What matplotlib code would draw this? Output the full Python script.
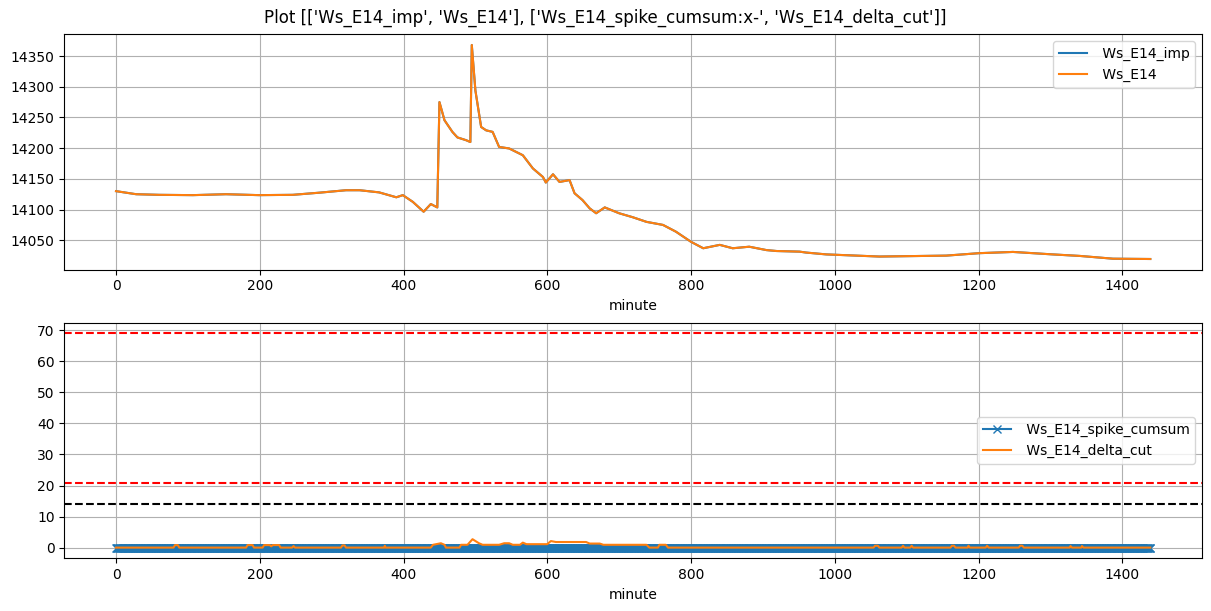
import numpy as np
import matplotlib
matplotlib.use("Agg")
import matplotlib.pyplot as plt

# ---------------- data ----------------
title = "Plot [['Ws_E14_imp', 'Ws_E14'], ['Ws_E14_spike_cumsum:x-', 'Ws_E14_delta_cut']]"

ws_minute = [0, 28, 60, 107, 153, 199, 246, 283, 320, 339, 366, 390, 399, 413, 428,
             438, 447, 450, 457, 468, 475, 487, 493, 495, 500, 508, 515, 524, 533,
             547, 566, 580, 594, 598, 608, 617, 631, 638, 649, 659, 668, 680, 700,
             719, 738, 761, 779, 800, 817, 840, 858, 881, 905, 919, 951, 960, 988,
             1062, 1155, 1201, 1248, 1303, 1341, 1387, 1439]
ws_value = [14130, 14125, 14124, 14123.5, 14125, 14123.5, 14124, 14127.5, 14131.5, 14131.5,
            14128, 14120, 14123.5, 14112.5, 14096.5, 14109, 14103.5, 14275, 14245.5, 14226.5,
            14217.5, 14213, 14210, 14368, 14294, 14234.5, 14229, 14226.5, 14202, 14199.5,
            14188.5, 14167, 14153, 14144, 14157.5, 14145, 14148, 14126.5, 14115.5, 14102,
            14094, 14103.5, 14094, 14087.5, 14080, 14075, 14064, 14047.5, 14037, 14042.5,
            14037, 14039.5, 14034, 14032.5, 14031.5, 14030, 14027, 14023.5, 14025, 14029,
            14031, 14027, 14024.5, 14020, 14019.5]

n_minutes = 1440
spike_cumsum = [0] * n_minutes

delta_minute = [0, 80, 82, 86, 88, 181, 183, 190, 192, 204, 206, 214, 216, 218, 227, 229,
                245, 247, 249, 313, 315, 318, 320, 373, 374, 375, 438, 441, 452, 457, 459,
                478, 480, 489, 496, 505, 510, 533, 540, 547, 552, 562, 566, 571, 600, 605,
                612, 654, 659, 673, 678, 738, 742, 754, 756, 765, 768, 1054, 1056, 1060, 1062,
                1093, 1095, 1097, 1105, 1107, 1109, 1161, 1163, 1166, 1168, 1185, 1186, 1188,
                1210, 1212, 1214, 1256, 1258, 1261, 1263, 1327, 1328, 1330, 1343, 1344, 1346, 1439]
delta_value = [0, 0, 0.8, 0.8, 0, 0, 0.8, 0.8, 0, 0, 0.8, 0.8, 0.4, 0.8, 0.8, 0,
               0, 0.5, 0, 0, 0.7, 0.7, 0, 0, 0.6, 0, 0, 0.9, 1.4, 0.9, 0,
               0, 0.9, 0.9, 2.7, 1.4, 0.9, 0.9, 1.4, 1.4, 0.9, 0.9, 1.6, 1.1, 1.1, 2.1,
               1.8, 1.8, 1.3, 1.3, 0.9, 0.9, 0, 0, 0.9, 0.9, 0, 0, 0.6, 0.6, 0,
               0, 0.6, 0, 0, 0.6, 0, 0, 0.6, 0.6, 0, 0, 0.6, 0,
               0, 0.6, 0, 0, 0.6, 0.6, 0, 0, 0.5, 0, 0, 0.5, 0, 0]

threshold_red = [69.0, 20.8]
threshold_black = [14.1]

# ---------------- plot ----------------
W, H = 1211, 611
fig = plt.figure(figsize=(W / 100, H / 100), dpi=100)

ax1 = fig.add_axes([64.3 / W, 1 - 269.7 / H, (1202 - 64.3) / W, (269.7 - 34.3) / H])
ax2 = fig.add_axes([64.3 / W, 1 - 558.3 / H, (1202 - 64.3) / W, (558.3 - 322.7) / H])

ax1.plot(ws_minute, ws_value, color="C0", label=" Ws_E14_imp")
ax1.plot(ws_minute, ws_value, color="C1", label=" Ws_E14")
ax1.set_xlabel("minute")
ax1.grid(True)
ax1.legend(loc="upper right")

minutes = np.arange(n_minutes)
ax2.plot(minutes, spike_cumsum, "x-", color="C0", label=" Ws_E14_spike_cumsum")
ax2.plot(delta_minute, delta_value, color="C1", label=" Ws_E14_delta_cut")
for v in threshold_red:
    ax2.axhline(v, color="red", linestyle="--")
for v in threshold_black:
    ax2.axhline(v, color="black", linestyle="--")
ax2.set_xlabel("minute")
ax2.grid(True)
ax2.legend(loc="center right")

fig.suptitle(title, y=0.985)

fig.savefig("out.png", dpi=100)
